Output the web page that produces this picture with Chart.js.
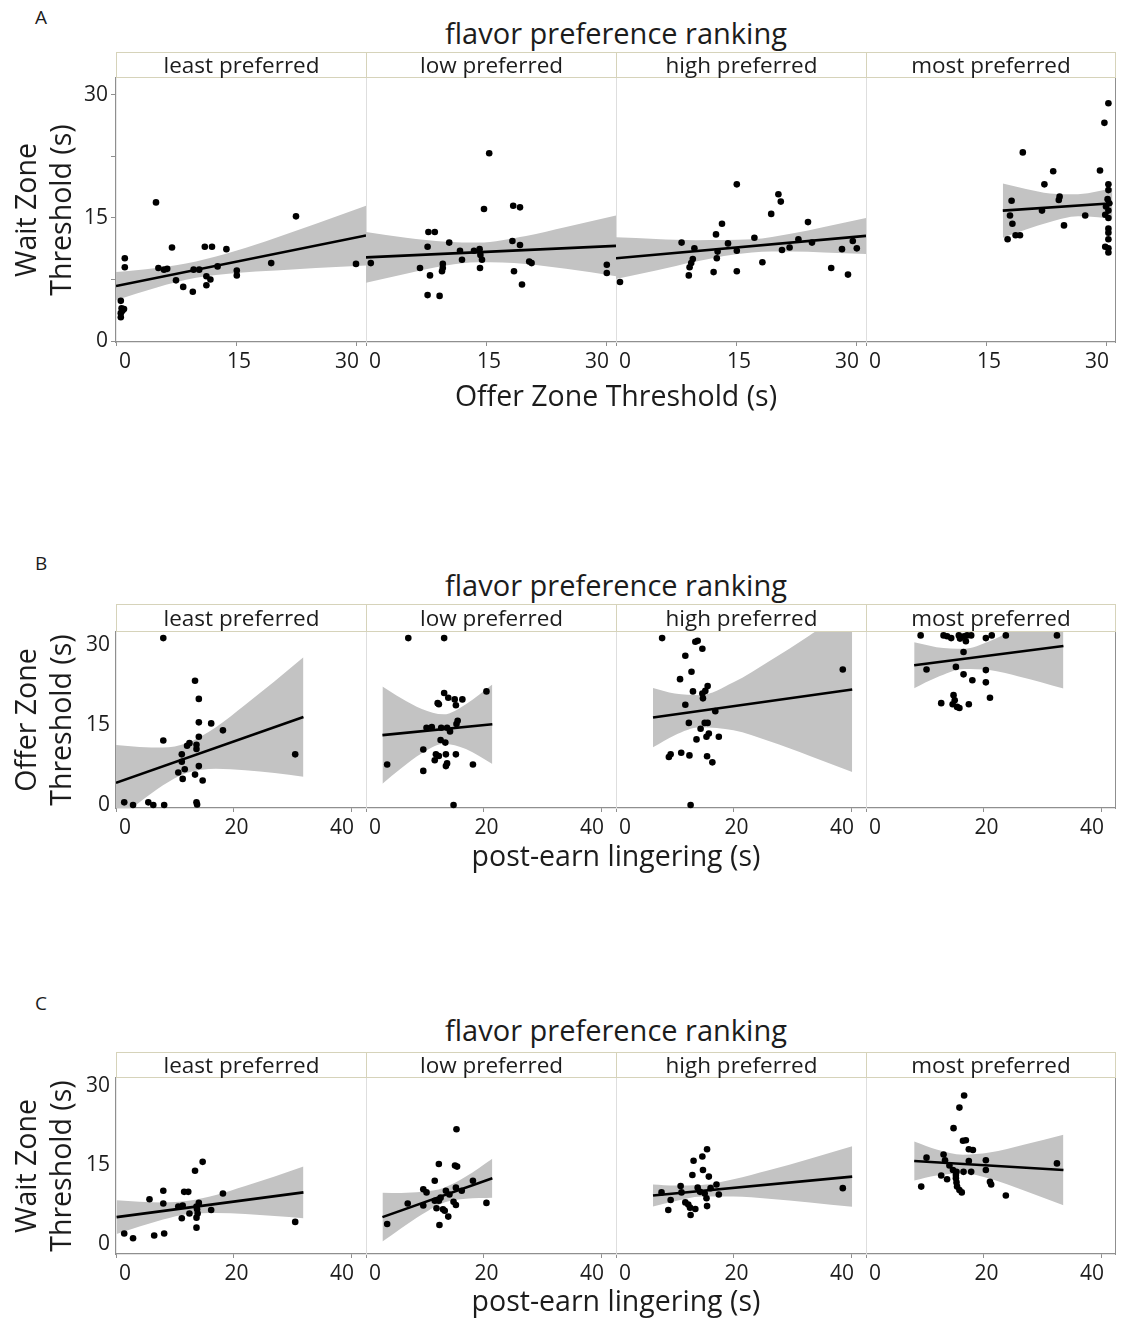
<!DOCTYPE html>
<html>
<head>
<meta charset="utf-8">
<title>Thresholds by flavor preference ranking</title>
<script src="https://cdn.jsdelivr.net/npm/chart.js@4.4.1/dist/chart.umd.min.js"></script>
<style>
  html,body{margin:0;padding:0;background:#fff;}
  body{position:relative;width:1123px;height:1322px;overflow:hidden;font-family:"Open Sans","DejaVu Sans",sans-serif;color:#1c1c1c;}
  .lbl{position:absolute;white-space:nowrap;}
  .letter{font-size:19px;line-height:22px;}
  .ptitle{font-size:29px;line-height:34px;text-align:center;}
  .strip{position:absolute;box-sizing:border-box;border:1.5px solid #d6d3ba;background:#fff;font-size:22.5px;text-align:center;white-space:nowrap;}
  .xtitle{font-size:28.5px;line-height:36px;text-align:center;}
  .ytitle{position:absolute;font-size:28.5px;line-height:35px;text-align:center;transform:rotate(-90deg);transform-origin:50% 50%;white-space:nowrap;}
  canvas{position:absolute;}
</style>
</head>
<body>
<script>
// ---------- categories, titles, ticks ----------
const rankings = ['least preferred', 'low preferred', 'high preferred', 'most preferred'];
const groupTitle = 'flavor preference ranking';
const panelLetters = ['A', 'B', 'C'];
const xTitles = ['Offer Zone Threshold (s)', 'post-earn lingering (s)', 'post-earn lingering (s)'];
const yTitles = [['Wait Zone', 'Threshold (s)'], ['Offer Zone', 'Threshold (s)'], ['Wait Zone', 'Threshold (s)']];
const offerTicks = [0, 15, 30];
const lingerTicks = [0, 20, 40];
const thresholdTicks = [0, 15, 30];
const thresholdMinorTicks = [7.5, 22.5];

// ---------- A: wait zone threshold vs offer zone threshold ----------
const aLeast = [[5.0,16.9],[22.5,15.2],[7.0,11.4],[11.1,11.5],[12.0,11.5],[13.8,11.2],[1.1,10.1],[1.1,9.0],[5.3,8.9],[6.0,8.7],[6.4,8.8],[7.5,7.4],[8.4,6.6],[9.6,6.0],[9.7,8.7],[10.4,8.7],[11.3,7.9],[11.3,6.8],[11.8,7.5],[12.7,9.1],[15.1,8.6],[15.1,8.0],[19.4,9.5],[30.0,9.4],[0.6,4.9],[0.7,4.0],[1.0,3.9],[0.6,3.4],[0.6,2.9],[0.8,3.7]];
const aLow = [[15.4,22.9],[14.75,16.1],[18.4,16.5],[19.25,16.3],[7.8,13.3],[8.6,13.3],[7.7,11.5],[10.4,12.0],[11.75,11.0],[12.0,9.9],[13.5,11.0],[14.2,11.2],[14.3,10.5],[14.5,9.9],[14.25,8.9],[18.3,12.2],[19.25,11.7],[18.5,8.5],[19.5,6.9],[20.4,9.7],[20.7,9.5],[6.75,8.9],[8.0,8.0],[9.6,9.4],[9.6,8.9],[9.5,8.5],[7.7,5.6],[9.2,5.5],[0.6,9.5],[30.1,9.3],[30.1,8.3]];
const aHigh = [[15.1,19.1],[20.3,17.9],[20.6,17.0],[19.4,15.5],[13.25,14.3],[12.5,13.0],[24.0,14.5],[8.2,12.0],[9.8,11.3],[14.0,11.9],[12.7,10.9],[15.1,11.0],[17.3,12.6],[12.6,10.1],[9.6,10.0],[9.4,9.5],[9.2,9.0],[9.1,8.0],[12.2,8.4],[15.1,8.5],[18.3,9.6],[20.75,11.1],[21.7,11.4],[22.8,12.4],[24.5,12.0],[26.9,8.9],[28.25,11.2],[29.0,8.1],[29.6,12.2],[30.1,11.3],[0.5,7.2]];
const aMost = [[30.3,29.0],[29.8,26.6],[19.6,23.0],[29.25,20.8],[23.4,20.7],[22.3,19.1],[24.2,17.6],[24.1,17.2],[18.2,17.1],[22.0,15.9],[18.0,15.3],[27.4,15.3],[18.3,14.3],[24.75,14.1],[18.7,12.9],[19.25,12.9],[17.7,12.4],[30.3,19.1],[30.3,18.4],[30.2,17.3],[30.4,16.8],[30.0,16.4],[30.3,15.9],[29.9,15.4],[30.3,15.0],[30.3,13.7],[30.3,13.2],[30.3,12.4],[29.9,11.5],[30.3,11.3],[30.3,10.8]];
const aLeastFit = [[0,6.7],[31.25,12.86]];
const aLowFit = [[0,10.2],[31.25,11.6]];
const aHighFit = [[0,10.1],[31.25,12.82]];
const aMostFit = [[17.1,15.9],[30.8,16.8]];
// confidence band: [x, lower, upper]
const aLeastBand = [[0,5.0,8.4],[5,6.5,8.9],[10,7.7,9.7],[15,8.3,11.0],[20,8.6,12.6],[25,8.9,14.3],[31.25,9.2,16.5]];
const aLowBand = [[0,7.1,13.3],[5,8.2,12.6],[10,9.2,12.1],[14,9.6,12.0],[20,9.4,12.8],[25,8.8,13.9],[31.25,7.9,15.3]];
const aHighBand = [[0,7.55,12.65],[5,8.6,12.45],[10,9.7,12.3],[17,10.8,12.4],[22,10.9,13.1],[26,10.8,13.9],[31.25,10.6,15.0]];
const aMostBand = [[17.1,12.6,19.2],[20,13.6,18.55],[23,14.5,18.0],[26.5,15.2,17.9],[29,15.1,18.25],[30.8,14.9,18.7]];

// ---------- B: offer zone threshold vs post-earn lingering ----------
const bLeast = [[8.05,31.3],[13.45,23.3],[14.1,19.9],[14.1,15.5],[16.2,15.3],[18.2,14.0],[14.1,12.8],[8.05,12.1],[12.5,11.6],[12.1,11.1],[13.7,11.3],[13.7,10.5],[11.2,9.5],[11.2,8.1],[14.1,7.3],[10.6,6.1],[11.7,6.7],[13.45,5.7],[11.35,4.9],[14.75,4.6],[30.5,9.5],[1.4,0.5],[2.9,0],[5.5,0.5],[6.35,0],[8.2,0],[13.7,0.5],[13.8,0.1]];
const bLow = [[7.2,31.3],[13.3,31.3],[20.5,21.3],[13.3,21.0],[14.0,20.1],[15.1,19.8],[16.4,19.8],[15.3,18.7],[12.2,19.1],[12.4,18.9],[15.6,15.8],[15.4,15.2],[10.3,14.5],[11.2,14.6],[12.8,14.5],[13.8,14.5],[14.3,13.8],[12.7,12.2],[13.5,11.7],[9.75,10.4],[11.9,9.5],[12.4,9.2],[13.6,9.5],[15.3,9.5],[11.7,8.4],[13.8,7.8],[13.6,7.3],[18.2,7.6],[9.75,6.4],[3.6,7.6],[14.9,0]];
const bHigh = [[7.85,31.3],[13.5,30.6],[13.9,30.8],[14.7,29.3],[11.8,28.0],[12.85,25.0],[10.9,23.6],[15.6,22.3],[13.1,21.3],[14.7,20.9],[15.2,21.4],[14.8,20.0],[11.8,18.8],[16.9,17.6],[12.4,15.4],[15.1,15.4],[15.6,15.4],[14.4,14.3],[15.8,13.4],[15.4,12.8],[17.5,12.8],[13.7,12.3],[9.3,9.5],[9.0,9.0],[11.1,9.8],[12.5,9.3],[15.5,9.15],[16.4,8.0],[12.7,0],[38.6,25.4]];
const bMost = [[9.3,31.8],[13.2,31.8],[13.8,31.65],[14.5,31.3],[15.8,31.8],[16.0,31.2],[16.7,31.65],[17.0,30.7],[17.2,31.8],[17.9,31.8],[20.4,31.3],[21.4,31.8],[23.8,31.8],[32.5,31.8],[16.6,28.7],[10.3,25.4],[15.3,25.9],[16.6,24.5],[20.4,25.3],[18.1,23.4],[20.4,23.0],[21.1,20.1],[12.8,19.1],[14.9,20.6],[15.1,19.65],[14.75,18.9],[15.5,18.4],[15.9,18.2],[17.5,18.9]];
const bLeastFit = [[0,4.15],[31.9,16.5]];
const bLowFit = [[2.8,13.1],[21.5,15.15]];
const bHighFit = [[6.3,16.4],[40.2,21.65]];
const bMostFit = [[8.2,26.2],[33.6,29.8]];
const bLeastBand = [[0,-2.95,11.25],[4,0.5,10.9],[8,3.7,10.8],[12,6.0,11.6],[17,6.8,14.6],[22,6.5,18.8],[27,6.0,23.2],[31.9,5.3,27.7]];
const bLowBand = [[2.8,4.0,22.2],[6,6.9,20.0],[9.5,9.7,18.0],[13.2,11.5,17.0],[17,10.5,18.9],[21.5,7.7,22.6]];
const bHighBand = [[6.3,10.85,21.95],[10,13.1,20.9],[14.3,14.6,20.6],[20,14.0,23.0],[26,12.0,26.9],[33,9.2,31.85],[40.2,6.2,37.1]];
const bMostBand = [[8.2,21.9,30.5],[12,23.9,29.6],[16.7,25.5,29.3],[21,25.3,30.7],[26,24.1,33.4],[33.6,21.85,37.75]];

// ---------- C: wait zone threshold vs post-earn lingering ----------
const cLeast = [[14.75,15.6],[13.45,13.9],[8.05,10.1],[11.6,9.9],[12.3,9.9],[18.2,9.6],[5.7,8.5],[8.05,7.7],[14.1,7.8],[10.6,7.1],[11.35,7.3],[13.7,7.1],[13.8,6.6],[16.2,6.45],[12.5,5.8],[13.9,5.8],[13.7,5.0],[11.2,4.9],[13.7,3.1],[30.5,4.2],[1.4,2.0],[2.9,1.1],[6.5,1.6],[8.2,2.0]];
const cLow = [[15.4,21.8],[12.4,15.2],[15.15,14.9],[15.5,14.7],[11.7,12.0],[18.2,12.0],[9.75,10.4],[10.3,9.8],[13.6,10.1],[15.3,10.7],[16.3,10.1],[14.2,9.4],[12.7,8.8],[11.7,8.2],[12.4,8.2],[14.9,8.0],[7.1,7.7],[20.5,7.8],[9.75,7.3],[12.0,6.8],[13.1,6.6],[15.3,7.4],[13.4,6.3],[14.0,5.2],[12.5,3.6],[3.6,3.8]];
const cHigh = [[15.5,18.0],[14.7,16.6],[13.2,15.8],[14.8,14.05],[13.0,13.1],[15.8,12.8],[11.0,11.0],[13.9,10.7],[17.1,11.3],[7.75,9.8],[11.15,9.8],[14.3,9.9],[15.1,9.6],[16.1,10.6],[17.5,9.4],[15.4,8.7],[9.3,8.35],[11.8,7.9],[12.3,7.5],[12.6,6.9],[13.5,6.65],[15.5,7.2],[8.9,6.45],[12.7,5.5],[38.6,10.6]];
const cMost = [[16.7,28.2],[15.9,25.9],[14.9,22.0],[16.5,19.6],[17.0,19.7],[17.5,18.0],[18.2,17.85],[13.2,17.0],[10.3,16.4],[13.45,15.9],[17.5,15.75],[20.4,15.9],[32.5,15.3],[14.2,14.9],[14.8,14.05],[15.4,13.7],[16.6,13.7],[17.9,13.7],[20.4,14.05],[15.3,13.1],[12.8,13.0],[13.8,12.3],[15.3,12.5],[15.4,11.7],[21.1,11.8],[21.3,11.3],[15.5,10.9],[9.4,10.9],[15.9,10.25],[16.3,9.8],[23.8,9.2]];
const cLeastFit = [[0.1,5.1],[31.9,9.8]];
const cLowFit = [[2.8,5.1],[21.5,12.5]];
const cHighFit = [[6.3,9.2],[40.2,12.8]];
const cMostFit = [[8.2,15.75],[33.6,14.05]];
const cLeastBand = [[0.1,1.9,8.3],[4,3.3,8.0],[8,4.65,7.9],[12.3,5.7,8.2],[17,5.9,9.3],[22,5.7,11.0],[27,5.3,12.8],[31.9,4.9,14.7]];
const cLowBand = [[2.8,0.45,9.75],[6,3.0,9.7],[9.5,5.6,9.9],[13.3,7.9,10.7],[17,8.6,12.8],[21.5,8.8,16.2]];
const cHighBand = [[6.3,7.1,11.3],[10,8.1,11.1],[14.5,9.0,11.2],[20,9.0,12.3],[26,8.6,14.0],[33,7.9,16.2],[40.2,7.05,18.55]];
const cMostBand = [[8.2,12.05,19.45],[12,13.0,17.95],[16.5,13.45,16.95],[21,12.45,17.35],[27,10.1,18.9],[33.6,7.35,20.75]];

// ---------- axis ranges per panel ----------
const xRanges = [[0, 31.25], [0, 42.55], [0, 42.55]];
const yRanges = [[-0.12, 32.07], [-0.56, 32.44], [-1.9, 31.52]];

// ---------- page geometry ----------
const PLOT_LEFT = 116, FACET_W = 250, Y_AXIS_W = 60, X_AXIS_H = 40, TOP_PAD = 14;
const rowGeom = [
  {letterTop: 6,    titleTop: 16,   stripTop: 52,   plotTop: 78,   plotH: 264, xTitleTop: 377},
  {letterTop: 552,  titleTop: 568,  stripTop: 604,  plotTop: 632,  plotH: 176, xTitleTop: 837},
  {letterTop: 992,  titleTop: 1013, stripTop: 1052, plotTop: 1078, plotH: 176, xTitleTop: 1282}
];

const panelFacets = [
  [[aLeast, aLeastFit, aLeastBand], [aLow, aLowFit, aLowBand], [aHigh, aHighFit, aHighBand], [aMost, aMostFit, aMostBand]],
  [[bLeast, bLeastFit, bLeastBand], [bLow, bLowFit, bLowBand], [bHigh, bHighFit, bHighBand], [bMost, bMostFit, bMostBand]],
  [[cLeast, cLeastFit, cLeastBand], [cLow, cLowFit, cLowBand], [cHigh, cHighFit, cHighBand], [cMost, cMostFit, cMostBand]]
];
const panelXTicks = [offerTicks, lingerTicks, lingerTicks];
const panelHasMinor = [true, false, false];

Chart.defaults.font.family = '"Open Sans", "DejaVu Sans", sans-serif';
Chart.defaults.color = '#1c1c1c';

const AXIS_GRAY = '#8f8f8f';
const DIVIDER_GRAY = '#dedede';
const BAND_GRAY = '#c3c3c3';
const TICK_FONT = {size: 21};

function addText(cls, text, left, top, width) {
  const d = document.createElement('div');
  d.className = 'lbl ' + cls;
  d.textContent = text;
  d.style.left = left + 'px';
  d.style.top = top + 'px';
  if (width) d.style.width = width + 'px';
  document.body.appendChild(d);
  return d;
}

function toXY(pairs, idx) {
  return pairs.map(p => ({x: p[0], y: p[idx]}));
}

function drawFacet(p, k) {
  const g = rowGeom[p];
  const [pts, fit, band] = panelFacets[p][k];
  const first = k === 0, last = k === 3;
  const canvas = document.createElement('canvas');
  const w = FACET_W + (first ? Y_AXIS_W : 0);
  const h = g.plotH + X_AXIS_H + TOP_PAD;
  canvas.width = w; canvas.height = h;
  canvas.style.left = (PLOT_LEFT + FACET_W * k - (first ? Y_AXIS_W : 0)) + 'px';
  canvas.style.top = (g.plotTop - TOP_PAD) + 'px';
  canvas.style.width = w + 'px'; canvas.style.height = h + 'px';
  document.body.appendChild(canvas);

  const xTicks = panelXTicks[p];
  const yTickValues = panelHasMinor[p]
    ? [...thresholdTicks, ...thresholdMinorTicks].sort((a, b) => a - b)
    : thresholdTicks;

  new Chart(canvas, {
    type: 'scatter',
    data: {
      datasets: [
        {
          type: 'scatter', data: toXY(pts, 1), order: 0, clip: false,
          pointRadius: 3.3, pointHoverRadius: 3.3, pointBackgroundColor: '#000', pointBorderWidth: 0
        },
        {
          type: 'line', data: toXY(fit, 1), order: 1,
          borderColor: '#000', borderWidth: 2.6, pointRadius: 0, fill: false
        },
        {
          type: 'line', data: toXY(band, 1), order: 2,
          borderColor: 'rgba(0,0,0,0)', borderWidth: 0, pointRadius: 0,
          cubicInterpolationMode: 'monotone', fill: false
        },
        {
          type: 'line', data: toXY(band, 2), order: 3,
          borderColor: 'rgba(0,0,0,0)', borderWidth: 0, pointRadius: 0,
          cubicInterpolationMode: 'monotone', fill: '-1', backgroundColor: BAND_GRAY
        }
      ]
    },
    options: {
      responsive: false, animation: false, events: [],
      layout: {padding: {top: TOP_PAD, left: 0, right: 0, bottom: 0}, autoPadding: false},
      plugins: {legend: {display: false}, tooltip: {enabled: false}},
      scales: {
        x: {
          type: 'linear', min: xRanges[p][0], max: xRanges[p][1],
          afterBuildTicks: s => { s.ticks = xTicks.map(v => ({value: v})); },
          afterFit: s => { s.height = X_AXIS_H; s.paddingLeft = 0; s.paddingRight = 0; },
          ticks: {align: 'inner', autoSkip: false, maxRotation: 0, padding: 3, labelOffset: 3, font: TICK_FONT, color: '#1c1c1c'},
          grid: {drawOnChartArea: false, drawTicks: true, tickLength: 4, color: AXIS_GRAY, lineWidth: 1},
          border: {display: true, color: AXIS_GRAY, width: 1.2}
        },
        y: {
          type: 'linear', position: 'left', min: yRanges[p][0], max: yRanges[p][1],
          afterBuildTicks: s => { s.ticks = yTickValues.map(v => ({value: v})); },
          afterFit: s => { s.width = first ? Y_AXIS_W : 0; s.paddingTop = 0; s.paddingBottom = 0; },
          ticks: {
            display: first, autoSkip: false, padding: panelHasMinor[p] ? 3 : 6, font: TICK_FONT, color: '#1c1c1c',
            callback: v => (thresholdTicks.includes(v) ? String(v) : '')
          },
          grid: {drawOnChartArea: false, drawTicks: first && panelHasMinor[p], tickLength: 5, color: AXIS_GRAY},
          border: {display: true, color: first ? AXIS_GRAY : DIVIDER_GRAY, width: first ? 1.2 : 1}
        },
        yEdge: {
          type: 'linear', position: 'right', min: yRanges[p][0], max: yRanges[p][1],
          display: last,
          afterFit: s => { s.width = 0; s.paddingTop = 0; s.paddingBottom = 0; },
          ticks: {display: false}, grid: {display: false, drawTicks: false},
          border: {display: true, color: AXIS_GRAY, width: 1.2}
        }
      }
    }
  });
}

for (let p = 0; p < 3; p++) {
  const g = rowGeom[p];
  addText('letter', panelLetters[p], 35, g.letterTop);
  addText('ptitle', groupTitle, PLOT_LEFT, g.titleTop, FACET_W * 4);
  // facet canvases first, strip headers on top of their padded upper margin
  for (let k = 0; k < 4; k++) drawFacet(p, k);
  for (let k = 0; k < 4; k++) {
    const s = document.createElement('div');
    s.className = 'strip';
    s.textContent = rankings[k];
    s.style.left = (PLOT_LEFT + FACET_W * k) + 'px';
    s.style.top = g.stripTop + 'px';
    s.style.width = (FACET_W + (k < 3 ? 1 : 0)) + 'px';
    const sh = g.plotTop - g.stripTop;
    s.style.height = sh + 'px';
    s.style.lineHeight = (sh - 3) + 'px';
    document.body.appendChild(s);
  }
  addText('xtitle', xTitles[p], PLOT_LEFT, g.xTitleTop, FACET_W * 4);
  const yt = document.createElement('div');
  yt.className = 'ytitle';
  yTitles[p].forEach(t => { const l = document.createElement('div'); l.textContent = t; yt.appendChild(l); });
  const boxW = 260, boxH = 70;
  const cy = g.plotTop + g.plotH / 2;
  yt.style.width = boxW + 'px';
  yt.style.height = boxH + 'px';
  yt.style.left = (43 - boxW / 2) + 'px';
  yt.style.top = (cy - boxH / 2) + 'px';
  document.body.appendChild(yt);
}
</script>
</body>
</html>
